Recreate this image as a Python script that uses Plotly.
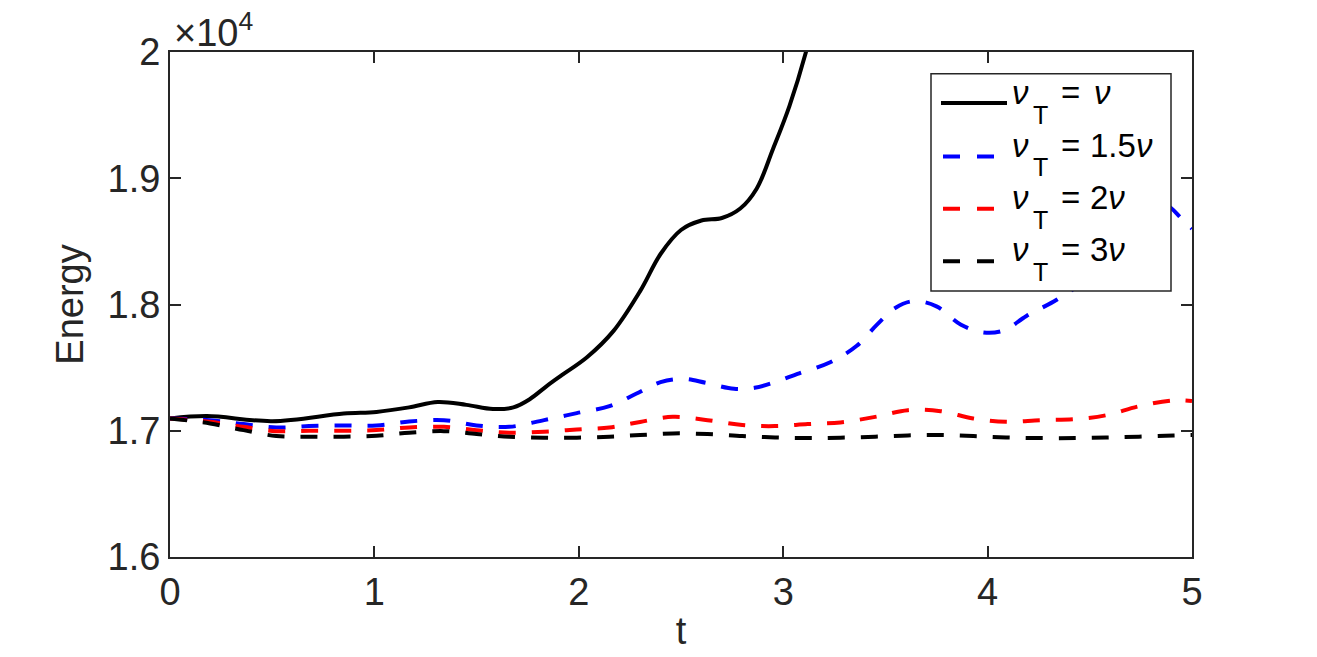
import plotly.graph_objects as go

# Energy in units of 1e4 (axis shows x10^4)
t_nu = [0.0, 0.18, 0.5, 0.85, 1.01, 1.17, 1.31, 1.45, 1.58, 1.68, 1.76, 1.84, 1.915,
        2.04, 2.17, 2.30, 2.40, 2.50, 2.60, 2.70, 2.79, 2.87, 2.95, 3.03, 3.11, 3.20]
e_nu = [1.7097, 1.7116, 1.7076, 1.7136, 1.7149, 1.7185, 1.7228, 1.7205, 1.7172, 1.7185,
        1.7250, 1.7350, 1.7438, 1.7582, 1.7791, 1.8106, 1.8400, 1.8590, 1.8665, 1.8685,
        1.8760, 1.8917, 1.9232, 1.9570, 1.9992, 2.06]

t_15 = [0.0, 0.196, 0.36, 0.52, 0.68, 0.85, 1.01, 1.17, 1.34, 1.50, 1.66, 1.83, 1.99, 2.15,
        2.28, 2.40, 2.51, 2.62, 2.76, 2.86, 2.96, 3.07, 3.23, 3.36, 3.46, 3.55, 3.64, 3.75,
        3.87, 3.98, 4.08, 4.19, 4.34, 4.50, 4.65, 4.80, 4.87, 4.95, 5.0]
e_15 = [1.7097, 1.7084, 1.7053, 1.7026, 1.7037, 1.7042, 1.7042, 1.7073, 1.7084, 1.7042, 1.7031,
        1.7084, 1.7140, 1.7195, 1.7293, 1.7385, 1.7411, 1.7380, 1.7332, 1.7340, 1.7385, 1.7450,
        1.7542, 1.7673, 1.7843, 1.7975, 1.8027, 1.7985, 1.7840, 1.7778, 1.7795, 1.7909, 1.8040,
        1.8220, 1.8500, 1.8760, 1.8790, 1.8680, 1.8600]

t_2 = [0.0, 0.196, 0.36, 0.52, 0.68, 0.85, 1.01, 1.17, 1.34, 1.50, 1.66, 1.83, 1.99, 2.15,
       2.30, 2.46, 2.63, 2.80, 2.96, 3.12, 3.28, 3.45, 3.61, 3.77, 3.93, 4.09, 4.26, 4.43,
       4.58, 4.74, 4.91, 5.0]
e_2 = [1.7097, 1.7071, 1.7031, 1.6997, 1.7000, 1.7000, 1.7005, 1.7026, 1.7031, 1.7005, 1.6984,
       1.6992, 1.7010, 1.7026, 1.7070, 1.7110, 1.7084, 1.7045, 1.7037, 1.7053, 1.7066, 1.7110,
       1.7163, 1.7155, 1.7097, 1.7071, 1.7084, 1.7092, 1.7123, 1.7194, 1.7241, 1.7236]

t_3 = [0.0, 0.196, 0.36, 0.52, 0.68, 0.85, 1.01, 1.17, 1.34, 1.50, 1.66, 1.83, 1.99, 2.15,
       2.30, 2.46, 2.63, 2.80, 2.96, 3.12, 3.28, 3.45, 3.61, 3.77, 3.93, 4.09, 4.26, 4.43,
       4.58, 4.74, 4.91, 5.0]
e_3 = [1.7097, 1.7058, 1.7005, 1.6958, 1.6953, 1.6953, 1.6961, 1.6984, 1.6997, 1.6974, 1.6953,
       1.6945, 1.6945, 1.6953, 1.6966, 1.6979, 1.6974, 1.6958, 1.6947, 1.6942, 1.6945, 1.6953,
       1.6963, 1.6966, 1.6958, 1.6947, 1.6942, 1.6942, 1.6947, 1.6953, 1.6963, 1.6966]

x_ticks = [0, 1, 2, 3, 4, 5]
y_ticks = [1.6, 1.7, 1.8, 1.9, 2.0]
y_tick_labels = ["1.6", "1.7", "1.8", "1.9", "2"]
legend_values = ["<i>ν</i>", "1.5<i>ν</i>", "2<i>ν</i>", "3<i>ν</i>"]
legend_names = ["νT = ν", "νT = 1.5ν", "νT = 2ν", "νT = 3ν"]

FONT = "Liberation Sans, Arial, Helvetica, sans-serif"
INK = "#262626"
DASH = "17px,16px"

series = [(t_nu, e_nu, "black", "solid"),
          (t_15, e_15, "#0000ff", DASH),
          (t_2, e_2, "#ff0000", DASH),
          (t_3, e_3, "black", DASH)]

fig = go.Figure()
for (tx, ey, col, dsh), nm in zip(series, legend_names):
    fig.add_trace(go.Scatter(x=tx, y=ey, mode="lines", name=nm, showlegend=False,
                             line=dict(color=col, width=4, dash=dsh, shape="spline", smoothing=1.0)))

axis_common = dict(showgrid=False, zeroline=False, showline=True, linecolor=INK,
                   linewidth=2, mirror="ticks", ticks="inside", ticklen=11, tickwidth=1.5,
                   tickcolor=INK, tickfont=dict(family=FONT, size=38, color=INK))

fig.update_xaxes(range=[0, 5], tickvals=x_ticks, ticktext=[str(v) for v in x_ticks],
                 title=dict(text="t", font=dict(family=FONT, size=38, color=INK), standoff=6),
                 **axis_common)
fig.update_yaxes(range=[1.6, 2.0], tickvals=y_ticks, ticktext=y_tick_labels,
                 title=dict(text="Energy", font=dict(family=FONT, size=38, color=INK), standoff=12),
                 **axis_common)

fig.add_annotation(text="×10<sup>4</sup>", xref="paper", yref="paper", x=0.0, y=1.0,
                   xanchor="left", yanchor="bottom", showarrow=False, xshift=2, yshift=-4,
                   font=dict(family=FONT, size=38, color=INK))

# ---- manual legend (MATLAB style) ----
L, R, T, B = 170, 1192, 52, 561
def px(x):
    return (x - L) / (R - L)
def py(y):
    return (B - y) / (B - T)

shapes = [dict(type="rect", xref="paper", yref="paper",
               x0=px(931), x1=px(1171), y0=py(293), y1=py(74),
               fillcolor="white", line=dict(color=INK, width=1.5), layer="above")]
annotations = []
for i, ((tx, ey, col, dsh), val) in enumerate(zip(series, legend_values)):
    base = 104.5 + i * 52.8
    if dsh == "solid":
        shapes.append(dict(type="line", xref="paper", yref="paper", x0=px(941), x1=px(1007),
                           y0=py(base - 1), y1=py(base - 1), line=dict(color=col, width=4)))
    else:
        shapes.append(dict(type="line", xref="paper", yref="paper", x0=px(943), x1=px(994),
                           y0=py(base), y1=py(base),
                           line=dict(color=col, width=4, dash="17px,17px")))
    fs = 33
    annotations.append(dict(text="<i>ν</i>", x=px(1010), y=py(base - 11.5), xanchor="left",
                            yanchor="middle", font=dict(family=FONT, size=fs, color="black")))
    annotations.append(dict(text="T", x=px(1031), y=py(base + 11), xanchor="left",
                            yanchor="middle", font=dict(family=FONT, size=25, color="black")))
    annotations.append(dict(text="=", x=px(1059), y=py(base - 11.5), xanchor="left",
                            yanchor="middle", font=dict(family=FONT, size=fs, color="black")))
    vx = 1092 if i == 0 else 1088
    annotations.append(dict(text=val, x=px(vx), y=py(base - 11.5), xanchor="left",
                            yanchor="middle", font=dict(family=FONT, size=fs, color="black")))
for a in annotations:
    a.update(xref="paper", yref="paper", showarrow=False)
    fig.add_annotation(**a)

fig.update_layout(
    width=1317, height=657,
    margin=dict(l=L, r=1317 - R, t=T, b=657 - B),
    paper_bgcolor="white", plot_bgcolor="white",
    showlegend=False,
    shapes=shapes,
)

fig.write_html("out.html")
